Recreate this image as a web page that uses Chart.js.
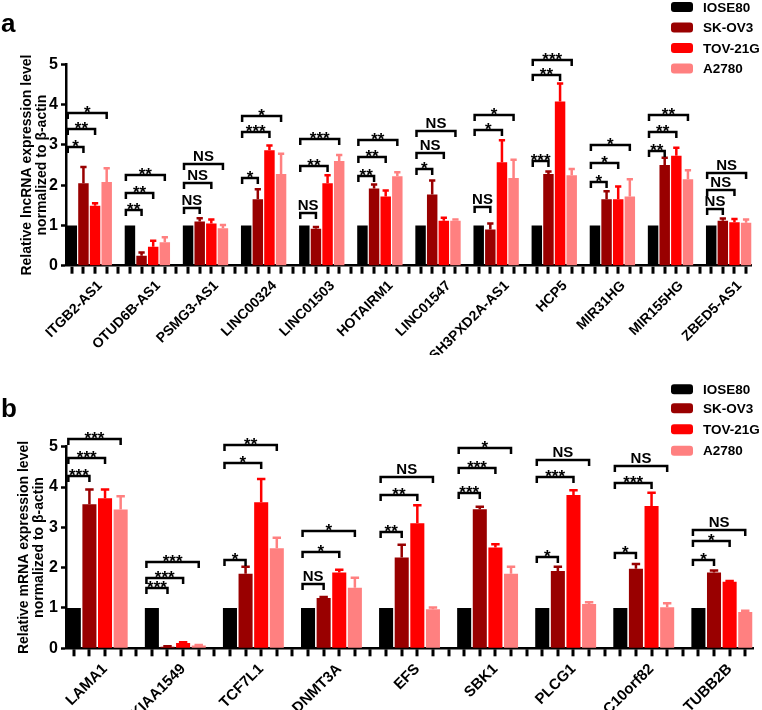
<!DOCTYPE html>
<html>
<head>
<meta charset="utf-8">
<script src="https://cdn.jsdelivr.net/npm/chart.js@4.4.1/dist/chart.umd.min.js"></script>
<style>
  body { margin: 0; background: #fff; }
  .panel { position: absolute; left: 0; width: 762px; height: 355px; }
</style>
</head>
<body>
<div class="panel" style="top:0px"><canvas id="chartA" width="762" height="355"></canvas></div>
<div class="panel" style="top:355px"><canvas id="chartB" width="762" height="355"></canvas></div>
<script>
var seriesNames = ['IOSE80', 'SK-OV3', 'TOV-21G', 'A2780'];
var seriesColors = ['#000000', '#990000', '#ff0000', '#ff8080'];
var yTicks = [0, 1, 2, 3, 4, 5];

// panel a - lncRNA
var genesA = ['ITGB2-AS1', 'OTUD6B-AS1', 'PSMG3-AS1', 'LINC00324', 'LINC01503', 'HOTAIRM1',
  'LINC01547', 'SH3PXD2A-AS1', 'HCP5', 'MIR31HG', 'MIR155HG', 'ZBED5-AS1'];
var ioseA  = [1, 1, 1, 1, 1, 1, 1, 1, 1, 1, 1, 1];
var skov3A = [2.05, 0.25, 1.10, 1.65, 0.92, 1.92, 1.77, 0.90, 2.28, 1.65, 2.50, 1.12];
var tovA   = [1.49, 0.47, 1.05, 2.87, 2.05, 1.72, 1.12, 2.57, 4.08, 1.65, 2.73, 1.08];
var a2780A = [2.08, 0.58, 0.93, 2.28, 2.60, 2.22, 1.12, 2.18, 2.25, 1.72, 2.15, 1.07];
var skov3ErrA = [0.40, 0.08, 0.08, 0.25, 0.04, 0.10, 0.35, 0.15, 0.06, 0.20, 0.18, 0.05];
var tovErrA   = [0.06, 0.15, 0.10, 0.12, 0.20, 0.15, 0.07, 0.55, 0.45, 0.32, 0.20, 0.08];
var a2780ErrA = [0.34, 0.13, 0.08, 0.50, 0.15, 0.10, 0.03, 0.45, 0.15, 0.43, 0.22, 0.08];
// significance vs IOSE80: [SK-OV3, TOV-21G, A2780]
var sigA = [['*', '**', '*'], ['**', '**', '**'], ['NS', 'NS', 'NS'], ['*', '***', '*'],
  ['NS', '**', '***'], ['**', '**', '**'], ['*', 'NS', 'NS'], ['NS', '*', '*'],
  ['***', '**', '***'], ['*', '*', '*'], ['**', '**', '**'], ['NS', 'NS', 'NS']];
var sigHeightA = [[2.96, 3.40, 3.80], [1.38, 1.80, 2.25], [1.43, 2.06, 2.53], [2.19, 3.33, 3.72],
  [1.30, 2.49, 3.14], [2.24, 2.70, 3.13], [2.40, 2.80, 3.35], [1.45, 3.37, 3.75],
  [2.59, 4.74, 5.12], [2.09, 2.55, 2.99], [2.84, 3.33, 3.75], [1.41, 1.88, 2.30]];

// panel b - mRNA
var genesB = ['LAMA1', 'KIAA1549', 'TCF7L1', 'DNMT3A', 'EFS', 'SBK1', 'PLCG1', 'C10orf82', 'TUBB2B'];
var ioseB  = [1, 1, 1, 1, 1, 1, 1, 1, 1];
var skov3B = [3.57, 0.04, 1.85, 1.25, 2.25, 3.45, 1.92, 1.97, 1.88];
var tovB   = [3.72, 0.13, 3.62, 1.88, 3.10, 2.50, 3.80, 3.53, 1.65];
var a2780B = [3.44, 0.07, 2.48, 1.50, 0.97, 1.85, 1.10, 1.02, 0.90];
var skov3ErrB = [0.37, 0.01, 0.17, 0.02, 0.32, 0.06, 0.10, 0.12, 0.05];
var tovErrB   = [0.22, 0.02, 0.58, 0.07, 0.45, 0.08, 0.12, 0.33, 0.02];
var a2780ErrB = [0.33, 0.01, 0.26, 0.25, 0.04, 0.17, 0.04, 0.10, 0.03];
var sigB = [['***', '***', '***'], ['***', '***', '***'], ['*', '*', '**'], ['NS', '*', '*'],
  ['**', '**', 'NS'], ['***', '***', '*'], ['*', '***', 'NS'], ['*', '***', 'NS'], ['*', '*', 'NS']];
var sigHeightB = [[4.28, 4.71, 5.19], [1.50, 1.74, 2.15], [2.19, 4.59, 5.03], [1.59, 2.40, 2.92],
  [2.89, 3.80, 4.26], [3.85, 4.47, 4.96], [2.27, 4.26, 4.67], [2.37, 4.11, 4.51], [2.19, 2.65, 2.93]];

var FONT = "'Liberation Sans', Arial, sans-serif";

// error bars, x ticks, significance brackets, legend
var annotPlugin = {
  id: 'annot',
  afterDatasetsDraw: function (chart) {
    var ctx = chart.ctx, y = chart.scales.y;
    ctx.save();
    chart.data.datasets.forEach(function (ds, i) {
      var meta = chart.getDatasetMeta(i);
      ds.data.forEach(function (v, j) {
        var e = ds.errors[j];
        if (v === null || !e) return;
        var bar = meta.data[j];
        var yt = y.getPixelForValue(v + e);
        var cw = bar.width * 0.3;
        ctx.strokeStyle = ds.backgroundColor;
        ctx.lineWidth = 2.5;
        ctx.beginPath();
        ctx.moveTo(bar.x, bar.y);
        ctx.lineTo(bar.x, yt);
        ctx.moveTo(bar.x - cw, yt);
        ctx.lineTo(bar.x + cw, yt);
        ctx.stroke();
      });
    });
    ctx.restore();
  },
  afterDraw: function (chart) {
    var o = chart.options.plugins.annot;
    var ctx = chart.ctx, y = chart.scales.y, x = chart.scales.x;
    var bottom = y.getPixelForValue(0);
    ctx.save();
    // tick marks under the x axis, one per slot
    var n = chart.data.labels.length;
    ctx.fillStyle = '#000000';
    for (var i = 0; i < n; i++) {
      var px = Math.round(x.getPixelForValue(i));
      ctx.fillRect(px - 1.5, bottom + 1, 3, 7);
    }

    var m0 = chart.getDatasetMeta(0);
    var slot = m0.data[0].width / 0.9;
    o.sig.forEach(function (row, g) {
      var x1 = m0.data[g * 5].x - slot * 0.35;
      row.forEach(function (txt, k) {
        var x2 = chart.getDatasetMeta(k + 1).data[g * 5 + k + 1].x;
        var yy = Math.round(y.getPixelForValue(o.heights[g][k]));
        ctx.strokeStyle = '#000';
        ctx.lineWidth = 2.5;
        ctx.beginPath();
        ctx.moveTo(x1, yy + 6);
        ctx.lineTo(x1, yy);
        ctx.lineTo(x2, yy);
        ctx.lineTo(x2, yy + 6);
        ctx.stroke();
        ctx.fillStyle = '#000';
        ctx.textAlign = 'center';
        ctx.textBaseline = 'alphabetic';
        if (txt === 'NS') {
          ctx.font = 'bold 15px ' + FONT;
          ctx.fillText(txt, (x1 + x2) / 2, yy - 3);
        } else {
          ctx.font = 'bold 17px ' + FONT;
          ctx.fillText(txt, (x1 + x2) / 2, yy + 5);
        }
      });
    });
    // panel letter
    ctx.font = 'bold 26px ' + FONT;
    ctx.textAlign = 'left';
    ctx.fillText(o.letter, 1, o.letterY);
    // legend
    ctx.font = 'bold 13.5px ' + FONT;
    ctx.textBaseline = 'middle';
    seriesNames.forEach(function (name, k) {
      var cy = o.legendY[k];
      ctx.fillStyle = seriesColors[k];
      ctx.beginPath();
      ctx.roundRect(671, cy - 5, 22, 10, 3);
      ctx.fill();
      ctx.fillStyle = '#000';
      ctx.fillText(name, 703, cy + 1);
    });
    ctx.restore();
  }
};

function makeChart(id, genes, vals, errs, sig, heights, cfg) {
  var nSlots = genes.length * 5 - 1;
  var labels = [];
  for (var i = 0; i < nSlots; i++) labels.push(i % 5 === 2 ? genes[Math.floor(i / 5)] : '');
  var datasets = vals.map(function (arr, k) {
    var data = [], er = [];
    for (var i = 0; i < nSlots; i++) {
      var on = i % 5 === k;
      data.push(on ? arr[Math.floor(i / 5)] : null);
      er.push(on ? errs[k][Math.floor(i / 5)] : 0);
    }
    return { label: seriesNames[k], data: data, errors: er, backgroundColor: seriesColors[k],
      grouped: false, barPercentage: 0.9, categoryPercentage: 1 };
  });
  return new Chart(document.getElementById(id), {
    type: 'bar',
    data: { labels: labels, datasets: datasets },
    plugins: [annotPlugin],
    options: {
      responsive: false,
      animation: false,
      layout: { padding: { top: cfg.padTop, right: cfg.padRight, left: 0, bottom: 0 } },
      plugins: {
        legend: { display: false },
        tooltip: { enabled: false },
        annot: { sig: sig, heights: heights, letter: cfg.letter, letterY: cfg.letterY, legendY: cfg.legendY }
      },
      scales: {
        x: {
          afterFit: function (s) { s.height = cfg.axisH; },
          border: { display: true, color: '#000', width: 2.5 },
          grid: { display: false },
          ticks: { autoSkip: false, minRotation: 45, maxRotation: 45, padding: 4, labelOffset: cfg.labelOffset,
            color: '#000', font: { family: FONT, size: cfg.labelSize, weight: 'bold' } }
        },
        y: {
          min: 0, max: 5,
          afterFit: function (s) { s.width = 66; },
          afterBuildTicks: function (s) { s.ticks = yTicks.map(function (v) { return { value: v }; }); },
          border: { display: true, color: '#000', width: 2.5 },
          grid: { display: true, drawOnChartArea: false, tickLength: 5, tickWidth: 2.5, tickColor: '#000' },
          ticks: { padding: 3, color: '#000', font: { family: FONT, size: 16, weight: 'bold' } },
          title: { display: true, text: cfg.title, color: '#000', padding: { top: cfg.titlePad, bottom: 0 },
            font: { family: FONT, size: 14, weight: 'bold', lineHeight: 1.12 } }
        }
      }
    }
  });
}

makeChart('chartA', genesA, [ioseA, skov3A, tovA, a2780A],
  [ioseA.map(function () { return 0; }), skov3ErrA, tovErrA, a2780ErrA], sigA, sigHeightA,
  { padTop: 64.5, padRight: 5, axisH: 89.3, labelOffset: 5, labelSize: 14,
    title: ['Relative lncRNA expression level', 'normalized to \u03b2-actin'], titlePad: 19,
    letter: 'a', letterY: 32, legendY: [7, 27.5, 48, 68.5] });

makeChart('chartB', genesB, [ioseB, skov3B, tovB, a2780B],
  [ioseB.map(function () { return 0; }), skov3ErrB, tovErrB, a2780ErrB], sigB, sigHeightB,
  { padTop: 91.7, padRight: 3, axisH: 61.7, labelOffset: 0, labelSize: 15,
    title: ['Relative mRNA expression level', 'normalized to \u03b2-actin'], titlePad: 16,
    letter: 'b', letterY: 62, legendY: [34.3, 53.3, 74.3, 95.7] });
</script>
</body>
</html>
